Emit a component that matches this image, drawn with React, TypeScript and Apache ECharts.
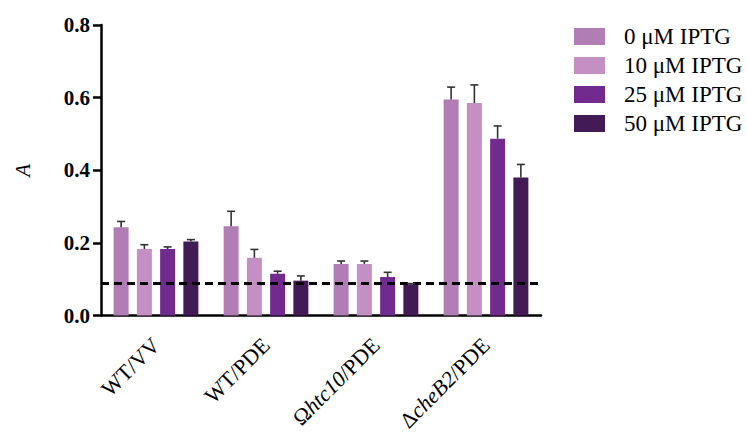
import React, { useEffect, useRef } from "react";
import * as echarts from "echarts";

const categories = ["WT/VV", "WT/PDE", "Ωhtc10/PDE", "ΔcheB2/PDE"];
const seriesNames = ["0 μM IPTG", "10 μM IPTG", "25 μM IPTG", "50 μM IPTG"];
const iptg0 = [0.243, 0.246, 0.142, 0.595];
const iptg10 = [0.183, 0.159, 0.142, 0.585];
const iptg25 = [0.183, 0.115, 0.106, 0.487];
const iptg50 = [0.204, 0.096, 0.086, 0.38];
const err0 = [0.016, 0.041, 0.008, 0.034];
const err10 = [0.012, 0.023, 0.008, 0.05];
const err25 = [0.006, 0.007, 0.013, 0.035];
const err50 = [0.005, 0.013, 0.002, 0.036];
const threshold = 0.09;
const yTicks = [0, 0.2, 0.4, 0.6, 0.8];

const colors = ["#B07DB5", "#C48FC2", "#712A8E", "#421A55"];
const FONT = '"Liberation Serif", "Times New Roman", serif';
const BAR_W = 15;
const BAR_GAP = 0.55;

export default function App() {
  const ref = useRef<HTMLDivElement>(null);
  useEffect(() => {
    if (!ref.current) return;
    const chart = echarts.init(ref.current, null, { renderer: "svg" });
    const values = [iptg0, iptg10, iptg25, iptg50];
    const errs = [err0, err10, err25, err50];
    const errData: number[][] = [];
    values.forEach((vals, s) => {
      vals.forEach((v, c) => errData.push([c, v, errs[s][c], s]));
    });
    const pitch = BAR_W * (1 + BAR_GAP);
    const labelFmt = (v: string) => {
      if (v.startsWith("Ω")) return "{n|Ω}{i|htc10}{n|/PDE}";
      if (v.startsWith("Δ")) return "{n|Δ}{i|cheB2}{n|/PDE}";
      return "{n|" + v + "}";
    };
    chart.setOption({
      animation: false,
      backgroundColor: "#fff",
      grid: { left: 101, right: 206, top: 25, bottom: 117, containLabel: false },
      legend: {
        data: seriesNames,
        orient: "vertical",
        left: 574,
        top: 25,
        padding: 0,
        itemWidth: 31,
        itemHeight: 17,
        itemGap: 6,
        icon: "rect",
        textStyle: { fontFamily: FONT, fontSize: 23, color: "#000", padding: [0, 0, 0, 14] },
      },
      xAxis: {
        type: "category",
        data: categories,
        axisLine: { lineStyle: { color: "#000", width: 2.5 } },
        axisTick: { alignWithLabel: true, length: 7, lineStyle: { color: "#000", width: 2.5 } },
        axisLabel: {
          rotate: 45,
          margin: 26,
          interval: 0,
          formatter: labelFmt,
          rich: {
            n: { fontFamily: FONT, fontSize: 22, color: "#000" },
            i: { fontFamily: FONT, fontSize: 22, color: "#000", fontStyle: "italic" },
          },
        },
      },
      yAxis: {
        type: "value",
        min: 0,
        max: 0.8,
        interval: 0.2,
        name: "A",
        nameLocation: "middle",
        nameGap: 68,
        nameTextStyle: { fontFamily: FONT, fontSize: 21, fontStyle: "italic", color: "#000" },
        splitLine: { show: false },
        axisLine: { show: true, lineStyle: { color: "#000", width: 2.5 } },
        axisTick: { show: true, length: 8, lineStyle: { color: "#000", width: 2.5 } },
        axisLabel: {
          fontFamily: FONT,
          fontSize: 21,
          fontWeight: "bold",
          color: "#000",
          margin: 11,
          formatter: (v: number) => (yTicks.some((t) => Math.abs(t - v) < 1e-9) ? v.toFixed(1) : ""),
        },
      },
      series: [
        ...values.map((vals, s) => ({
          name: seriesNames[s],
          type: "bar",
          data: vals,
          barWidth: BAR_W,
          barGap: BAR_GAP * 100 + "%",
          itemStyle: { color: colors[s] },
          ...(s === 0
            ? {
                markLine: {
                  silent: true,
                  symbol: "none",
                  label: { show: false },
                  lineStyle: { color: "#000", type: [8, 5], width: 3 },
                  data: [{ yAxis: threshold }],
                },
              }
            : {}),
        })),
        {
          type: "custom",
          name: "err",
          z: 5,
          data: errData,
          renderItem: (params: any, api: any) => {
            const c = api.value(0);
            const v = api.value(1);
            const e = api.value(2);
            const s = api.value(3);
            const base = api.coord([c, v]);
            const top = api.coord([c, v + e]);
            const x = base[0] + (s - 1.5) * pitch;
            const st = { stroke: "#333", lineWidth: 1.6 };
            return {
              type: "group",
              children: [
                { type: "line", shape: { x1: x, y1: base[1], x2: x, y2: top[1] }, style: st },
                { type: "line", shape: { x1: x - 4, y1: top[1], x2: x + 4, y2: top[1] }, style: st },
              ],
            };
          },
        },
      ],
    });
    return () => chart.dispose();
  }, []);
  return <div ref={ref} style={{ position: "fixed", left: 0, top: 0, width: 747, height: 434 }} />;
}
